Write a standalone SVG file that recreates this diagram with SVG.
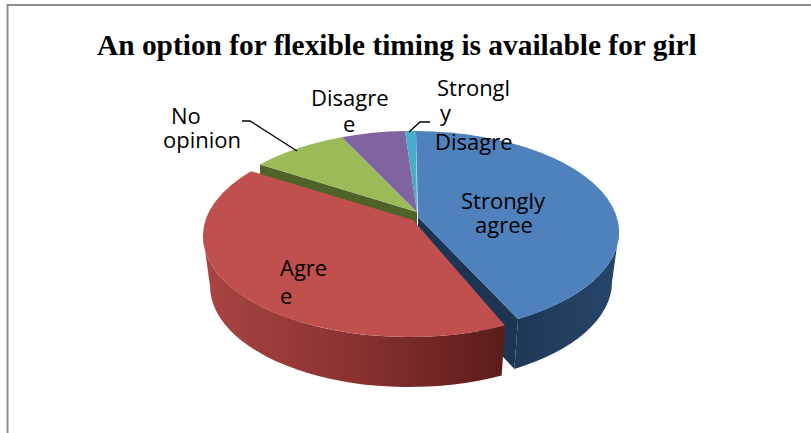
<svg xmlns="http://www.w3.org/2000/svg" width="811" height="433" viewBox="0 0 811 433">
<defs>
<linearGradient id="redSide" gradientUnits="userSpaceOnUse" x1="203" y1="0" x2="505" y2="0">
<stop offset="0" stop-color="#A94543"/>
<stop offset="0.5" stop-color="#8A3230"/>
<stop offset="1" stop-color="#5B1C1A"/>
</linearGradient>
<linearGradient id="blueSide" gradientUnits="userSpaceOnUse" x1="619" y1="0" x2="505" y2="0">
<stop offset="0" stop-color="#27466B"/>
<stop offset="1" stop-color="#1D3655"/>
</linearGradient>
</defs>
<style>
.frame{stroke:#8F8F8F;stroke-width:2;fill:none}
.title{font-family:"Liberation Serif","Times New Roman",serif;font-weight:bold;font-size:29.4px;fill:#000}
.lbl{font-family:"Open Sans","Liberation Sans",sans-serif;font-size:22px;fill:#000}
.lead{stroke:#000;stroke-width:1.3;fill:none}
</style>
<rect x="0" y="0" width="811" height="433" fill="#fff"/>
<g id="frame">
<line class="frame" x1="7" y1="5" x2="811" y2="5"/>
<line class="frame" x1="7.5" y1="4" x2="7.5" y2="433"/>
</g>
<text class="title" x="97" y="55">An option for flexible timing is available for girl</text>
<g id="slice-no-opinion">
<polygon points="260,164.4 417,212 417,262 260,214.4" fill="#4F6228"/>
<path d="M417,212 L260,164.4 A206 101 0 0 1 342,137.2 Z" fill="#9BBB59"/>
</g>
<g id="slice-disagree">
<path d="M417,212 L342,137.2 A206 101 0 0 1 405,131.1 Z" fill="#8064A2"/>
</g>
<g id="slice-strongly-disagree">
<path d="M417,212 L405,131.1 A206 101 0 0 1 416,131 Z" fill="#4BACC6"/>
</g>
<g id="slice-strongly-agree">
<polygon points="418,217 518,318.9 514.4,368.9 418,267" fill="#1C3553"/>
<path d="M619,232 A206 101 0 0 1 518,318.9 L514.4,368.9 A199 101 0 0 0 612,282 Z" fill="url(#blueSide)"/>
<path d="M418,217 L416,131 A206 101 0 0 1 518,318.9 Z" fill="#4F81BD"/>
</g>
<g id="slice-agree">
<path d="M203,236 A206 101 0 0 0 505,325.4 L501.7,375.4 A199 101 0 0 1 210,286 Z" fill="url(#redSide)"/>
<path d="M413,220 L251,171.2 A206 101 0 0 0 505,325.4 Z" fill="#C0504D"/>
</g>
<g id="connectors">
<polyline class="lead" points="242,121 250,121 297,151"/>
<polyline class="lead" points="430,122 420,122 409,132"/>
</g>
<g id="labels">
<g id="label-no-opinion">
<text class="lbl" x="171" y="124">No</text>
<text class="lbl" x="163" y="148">opinion</text>
</g>
<g id="label-disagree">
<text class="lbl" x="311" y="106">Disagre</text>
<text class="lbl" x="343" y="132">e</text>
</g>
<g id="label-strongly-disagree">
<text class="lbl" x="437" y="96">Strongl</text>
<text class="lbl" x="440" y="121">y</text>
<text class="lbl" x="435" y="150">Disagre</text>
</g>
<g id="label-strongly-agree">
<text class="lbl" x="461" y="209">Strongly</text>
<text class="lbl" x="475" y="233">agree</text>
</g>
<g id="label-agree">
<text class="lbl" x="280" y="276">Agre</text>
<text class="lbl" x="280" y="304">e</text>
</g>
</g>
</svg>
